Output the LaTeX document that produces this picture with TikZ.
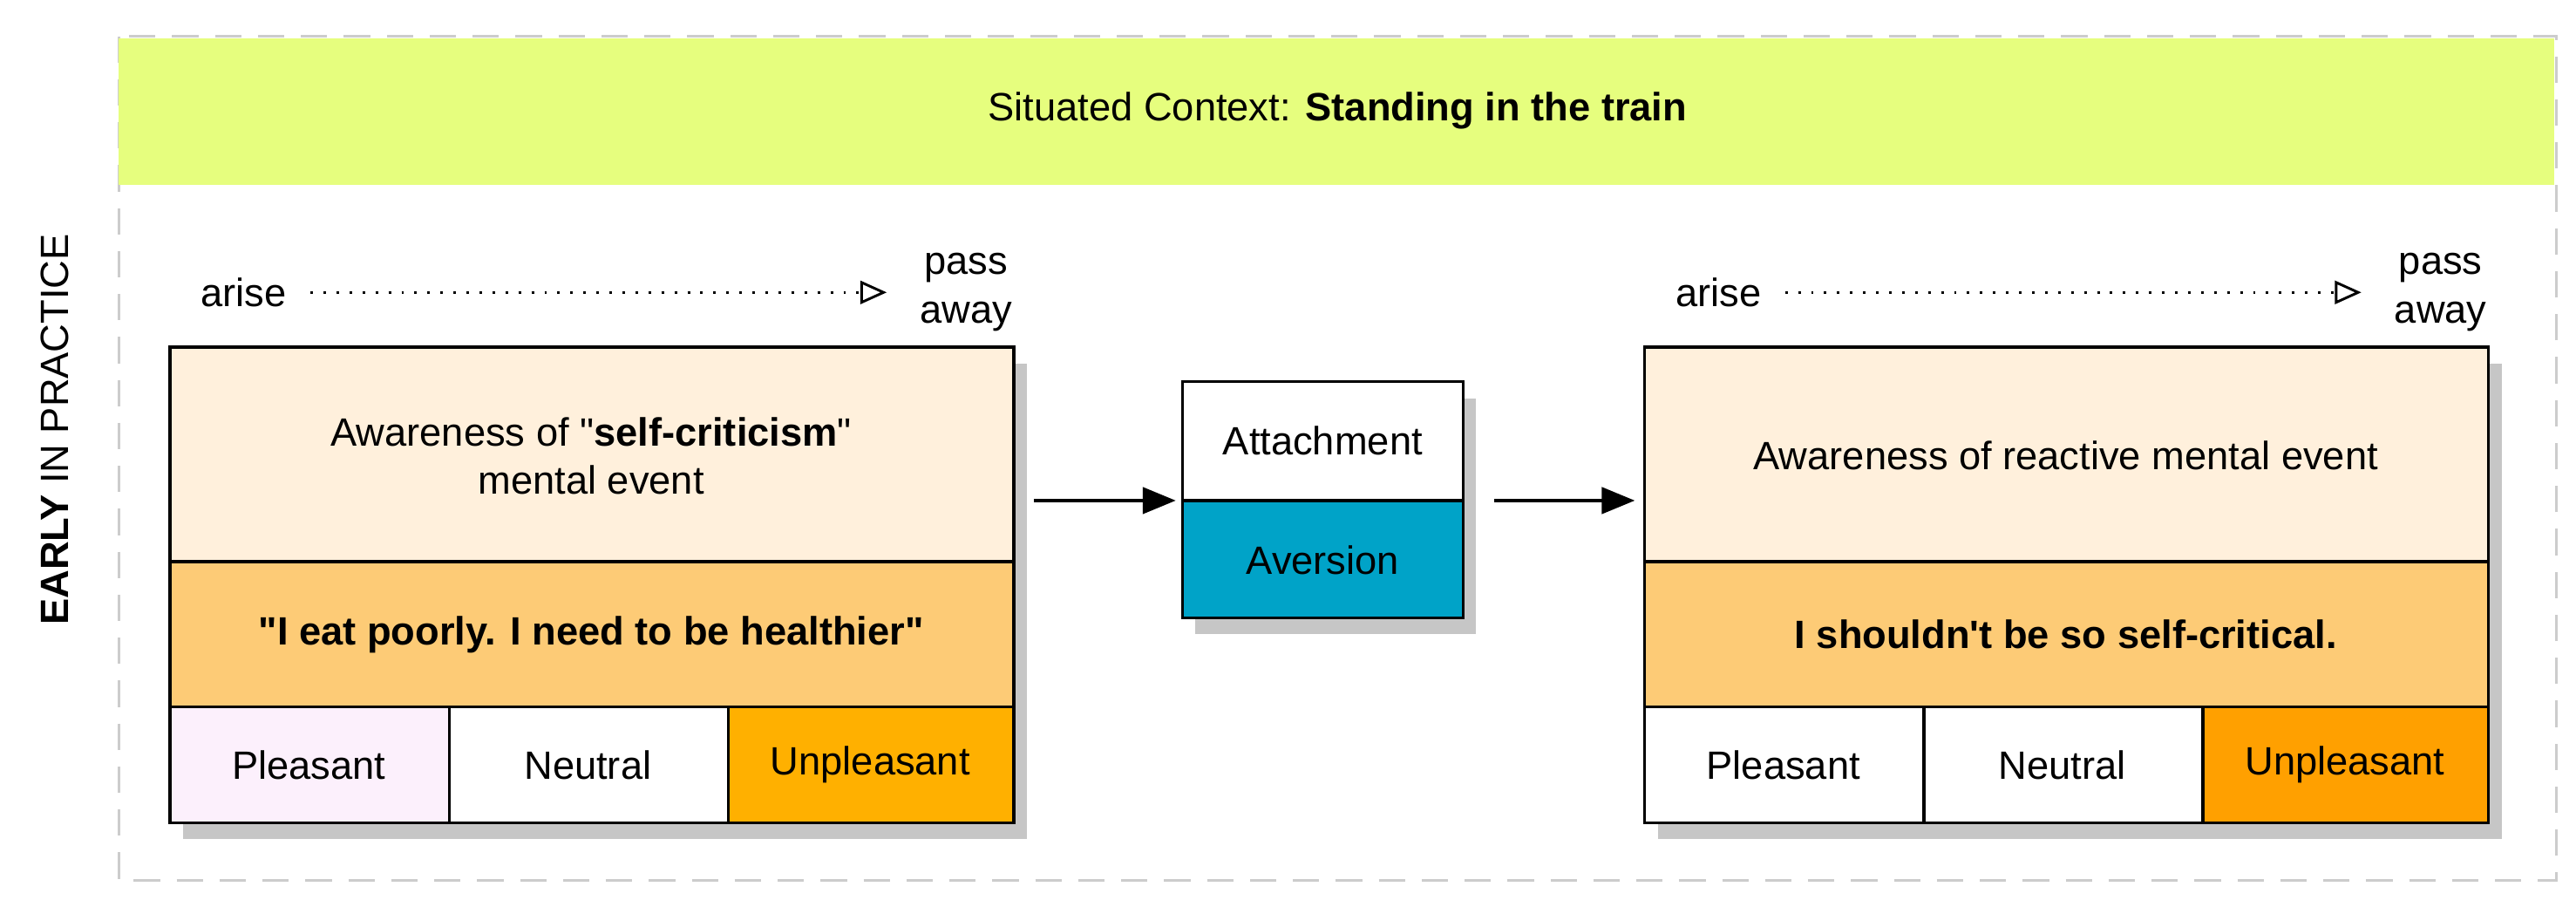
\documentclass[tikz,border=0pt]{standalone}
\usepackage{fontspec}
\setmainfont{Liberation Sans}
\usetikzlibrary{arrows.meta,shadows}
\definecolor{ctxgreen}{HTML}{E6FE7E}
\definecolor{aware}{HTML}{FFF0DC}
\definecolor{thought}{HTML}{FDCB76}
\definecolor{pleas}{HTML}{FCF0FC}
\definecolor{unplA}{HTML}{FFB000}
\definecolor{unplB}{HTML}{FFA000}
\definecolor{avers}{HTML}{00A3C8}
\begin{document}
\begin{tikzpicture}[x=0.05cm,y=-0.05cm,
  box/.style={draw=black,line width=2.6pt,inner sep=0pt,drop shadow={shadow xshift=4mm,shadow yshift=-5mm,opacity=.45}},
  cell/.style={draw=black,line width=2.6pt},
  txt/.style={font=\fontsize{34}{42}\selectfont,align=center},
  flow/.style={-{Triangle[open,length=8mm,width=7mm,line width=2.2pt]},dash pattern=on 2.2pt off 9pt,line width=2.2pt},
  link/.style={-{Triangle[length=10mm,width=8mm]},line width=2.6pt}]
  \useasboundingbox (0,0) rectangle (1560,549);
  \draw[gray!40,line width=2.5pt,dash pattern=on 8mm off 5mm] (72,22) rectangle (1548,533);
  \fill[ctxgreen] (72,23) rectangle (1547,112);
  \node[txt] (ctx) at (810,67) {Situated Context: \textbf{Standing in the train}};
  \node[txt,rotate=90] (early) at (33,260) {\textbf{EARLY} IN PRACTICE};
  % mental events
  \foreach \ox/\u/\p/\aw/\th [count=\i] in {0/unplA/pleas/{Awareness of \textquotedbl\textbf{self-criticism}\textquotedbl\\mental event}/{\textbf{\textquotedbl I eat poorly. I need to be healthier\textquotedbl}},
      893/unplB/white/{Awareness of reactive mental event}/{\textbf{I shouldn\textquotesingle t be so self-critical.}}}{
    \begin{scope}[xshift=\ox*0.05cm]
      \fill[white,box] (103,210) rectangle (614,498);
      \filldraw[aware,cell] (103,210) rectangle (614,340);
      \filldraw[thought,cell] (103,340) rectangle (614,428);
      \filldraw[\p,cell] (103,428) rectangle (272,498);
      \filldraw[white,cell] (272,428) rectangle (441,498);
      \filldraw[\u,cell] (441,428) rectangle (614,498);
      \node[txt] (aw\i) at (358,276) {\aw};
      \node[txt] (th\i) at (358,384) {\th};
      \node[txt] (pl\i) at (187,463) {Pleasant};
      \node[txt] (ne\i) at (356,463) {Neutral};
      \node[txt] (un\i) at (527,463) {Unpleasant};
      \node[txt,anchor=east] (ar\i) at (176,177) {arise};
      \node[txt] (pa\i) at (585,177) {pass\\away};
      \coordinate (fs\i) at (188,177);
      \coordinate (fe\i) at (537,177);
      \draw[flow] (fs\i) -- (fe\i);
      \coordinate (in\i) at (103,303);
      \coordinate (out\i) at (626,303);
    \end{scope}}
  % reaction
  \fill[white,box] (716,231) rectangle (886,374);
  \filldraw[white,cell] (716,231) rectangle (886,303);
  \filldraw[avers,cell] (716,303) rectangle (886,374);
  \node[txt] (att) at (801,267) {Attachment};
  \node[txt] (av) at (801,339) {Aversion};
  \coordinate (rin) at (712,303);
  \coordinate (rout) at (905,303);
  \draw[link] (out1) -- (rin);
  \draw[link] (rout) -- ([xshift=-0.3cm]in2);
\end{tikzpicture}
\end{document}
